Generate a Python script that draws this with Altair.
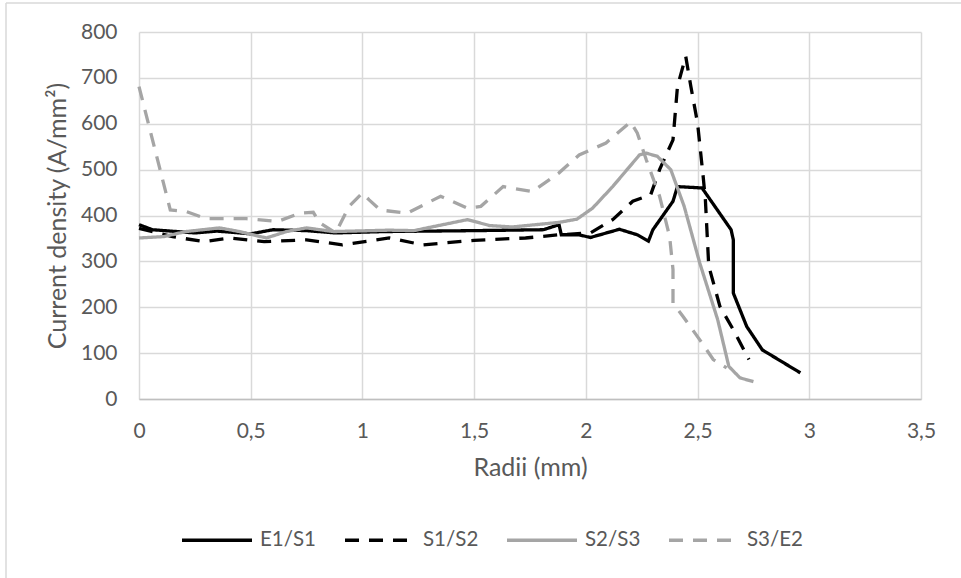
import altair as alt
import pandas as pd

series = ["E1/S1", "S1/S2", "S2/S3", "S3/E2"]

e1s1_x = [0, 0.06, 0.25, 0.35, 0.5, 0.6, 0.75, 0.88, 1.1, 1.5, 1.81, 1.88, 1.89, 1.97, 2.02, 2.15, 2.23, 2.28, 2.30, 2.39, 2.41, 2.52, 2.65, 2.66, 2.66, 2.72, 2.79, 2.96]
e1s1_y = [380, 369, 362, 366, 360, 369, 367, 362, 365, 367, 369, 380, 358, 358, 352, 370, 358, 344, 369, 431, 463, 460, 369, 347, 231, 158, 107, 57]

s1s2_x = [0, 0.15, 0.29, 0.41, 0.56, 0.75, 0.91, 1.12, 1.27, 1.5, 1.73, 1.88, 2.02, 2.12, 2.21, 2.29, 2.33, 2.39, 2.41, 2.447, 2.47, 2.50, 2.525, 2.535, 2.55, 2.60, 2.66, 2.73]
s1s2_y = [372, 354, 343, 351, 343, 347, 336, 351, 336, 346, 351, 358, 362, 391, 431, 445, 500, 565, 681, 747, 681, 601, 485, 434, 290, 202, 151, 86]

s2s3_x = [0, 0.11, 0.21, 0.36, 0.45, 0.57, 0.66, 0.75, 0.87, 1.12, 1.23, 1.38, 1.47, 1.57, 1.67, 1.88, 1.96, 2.03, 2.12, 2.24, 2.27, 2.32, 2.38, 2.44, 2.51, 2.59, 2.64, 2.69, 2.75]
s2s3_y = [351, 354, 365, 373, 365, 351, 365, 373, 365, 368, 367, 382, 391, 378, 375, 385, 392, 416, 463, 532, 536, 529, 500, 420, 296, 173, 71, 46, 38]

s3e2_x = [0, 0.14, 0.21, 0.30, 0.48, 0.62, 0.72, 0.78, 0.81, 0.88, 0.94, 1.00, 1.03, 1.08, 1.20, 1.35, 1.47, 1.53, 1.63, 1.76, 1.88, 1.97, 2.09, 2.20, 2.23, 2.27, 2.33, 2.375, 2.39, 2.39, 2.435, 2.51, 2.57, 2.63]
s3e2_y = [681, 412, 409, 393, 393, 387, 405, 407, 384, 362, 420, 449, 434, 412, 405, 442, 416, 420, 463, 452, 493, 532, 558, 604, 580, 522, 442, 354, 282, 209, 180, 129, 86, 68]

x_ticks = [0, 0.5, 1, 1.5, 2, 2.5, 3, 3.5]
y_ticks = [0, 100, 200, 300, 400, 500, 600, 700, 800]

rows = []
for name, xs, ys in zip(series, [e1s1_x, s1s2_x, s2s3_x, s3e2_x], [e1s1_y, s1s2_y, s2s3_y, s3e2_y]):
    for i, (xv, yv) in enumerate(zip(xs, ys)):
        rows.append({"series": name, "x": xv, "y": yv, "i": i})
df = pd.DataFrame(rows)

FONT = "Lato"
TXT = "#595959"
DASH = [14, 10]

leg = alt.Legend(
    title=None, orient="none", legendX=41, legendY=471, direction="horizontal",
    symbolType="stroke", symbolSize=4900, symbolStrokeWidth=3.5,
    labelFontSize=20.5, labelColor=TXT, labelFont=FONT, columnPadding=21, labelOffset=6,
)

lines = alt.Chart(df).mark_line(strokeWidth=3.3).encode(
    x=alt.X("x:Q", title="Radii (mm)",
            scale=alt.Scale(domain=[0, 3.5], nice=False),
            axis=alt.Axis(values=x_ticks, labelExpr="replace(format(datum.value, '~g'), '.', ',')",
                          ticks=False, labelPadding=21, domain=True, domainColor="#bfbfbf",
                          domainWidth=1.5, gridColor="#d9d9d9", gridWidth=1.5,
                          titleY=68, titleBaseline="middle", labelFlush=False)),
    y=alt.Y("y:Q", title="Current density (A/mm²)",
            scale=alt.Scale(domain=[0, 800], nice=False),
            axis=alt.Axis(values=y_ticks, ticks=False, domain=False, labelPadding=22,
                          gridColor="#d9d9d9", gridWidth=1.5,
                          titleX=-82, titleY=183.5, titleBaseline="middle")),
    color=alt.Color("series:N", scale=alt.Scale(domain=series, range=["#000000", "#000000", "#a5a5a5", "#a5a5a5"]), legend=leg),
    strokeDash=alt.StrokeDash("series:N", scale=alt.Scale(domain=series, range=[[1, 0], DASH, [1, 0], DASH]), legend=leg),
    order="i:Q",
)

frame_df = pd.DataFrame({"a": [0]})
left_border = alt.Chart(frame_df).mark_rule(color="#d9d9d9", strokeWidth=1.5).encode(
    x=alt.value(-133), y=alt.value(-29), y2=alt.value(560))
top_border = alt.Chart(frame_df).mark_rule(color="#d9d9d9", strokeWidth=1.5).encode(
    x=alt.value(-133), x2=alt.value(840), y=alt.value(-29))

chart = alt.layer(left_border, top_border, lines).properties(
    width=782, height=367,
    autosize=alt.AutoSizeParams(type="none"),
    padding={"left": 139, "top": 32, "right": 40, "bottom": 179},
    background="white",
).configure_view(stroke=None).configure_axis(
    labelFont=FONT, titleFont=FONT, labelFontSize=21, titleFontSize=25,
    labelColor=TXT, titleColor=TXT, titleFontWeight="normal",
)

chart.save("out.html", embed_options={"renderer": "svg", "actions": False})
